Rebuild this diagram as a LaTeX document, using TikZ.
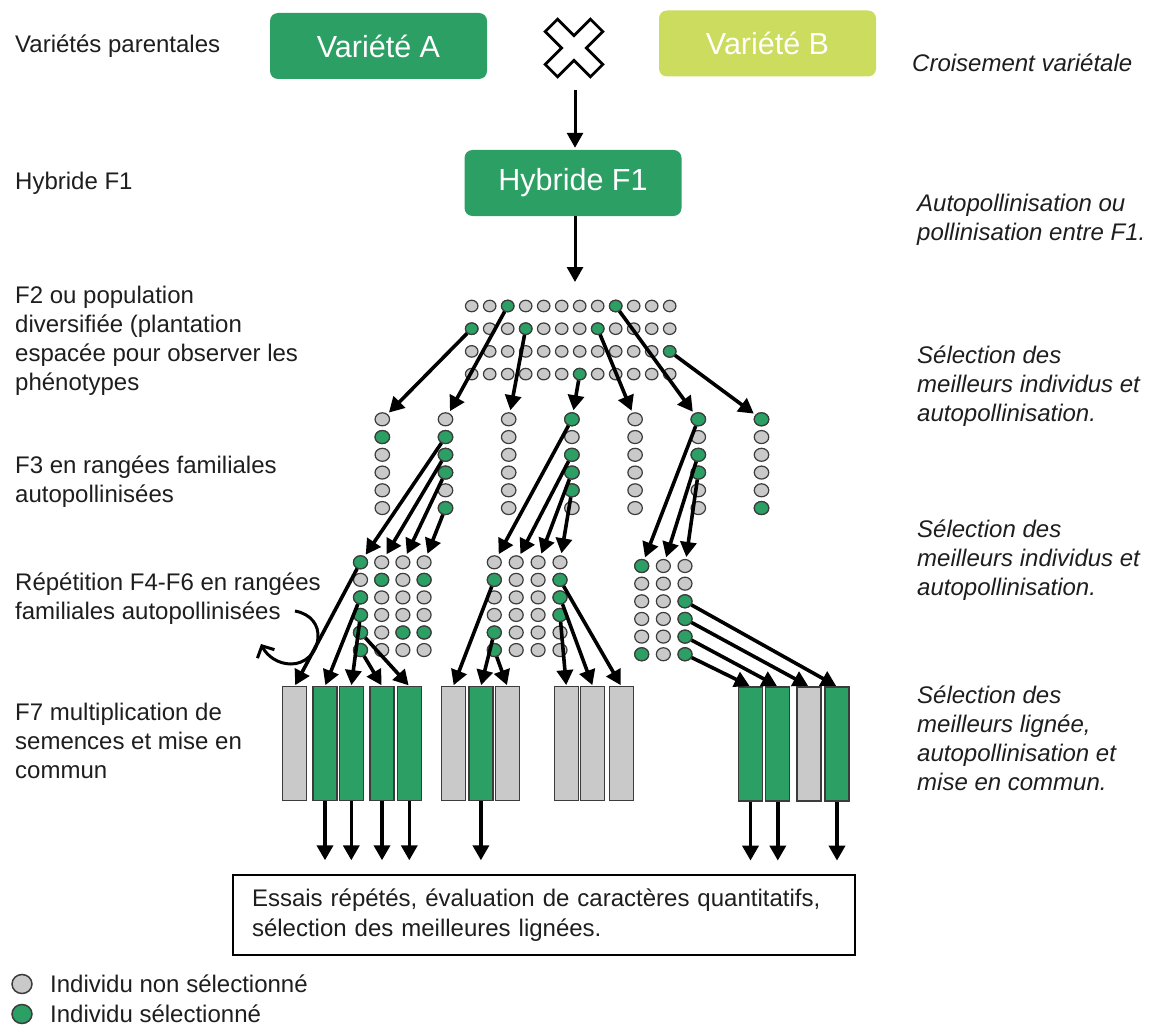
\documentclass[tikz,border=0pt]{standalone}
\usepackage{fontspec}
\setmainfont{Liberation Sans}
\usetikzlibrary{arrows.meta,shapes.geometric,calc}
\definecolor{vert}{RGB}{44,160,100}
\definecolor{vertclair}{RGB}{204,220,94}
\definecolor{gris}{RGB}{200,201,200}
\definecolor{bord}{RGB}{60,60,60}
\definecolor{texte}{RGB}{30,30,30}
\begin{document}
\begin{tikzpicture}[x=1pt,y=-1pt,
  lbl/.style={anchor=west, inner sep=0pt, align=left, text=texte, font=\fontsize{24}{29}\selectfont},
  rlbl/.style={anchor=west, inner sep=0pt, align=left, text=texte, font=\fontsize{24}{29}\selectfont\itshape},
  bigbox/.style={rounded corners=8pt, minimum width=217pt, minimum height=66pt, text=white, inner sep=0pt, font=\fontsize{30.5}{36}\selectfont},
  dotp/.style={ellipse, draw=bord, line width=1.2pt, fill=gris, inner sep=0pt, minimum width=12.5pt, minimum height=11.5pt},
  dott/.style={ellipse, draw=bord, line width=1.2pt, fill=gris, inner sep=0pt, minimum width=14.5pt, minimum height=13pt},
  dotq/.style={ellipse, draw=bord, line width=1.2pt, fill=gris, inner sep=0pt, minimum width=14pt, minimum height=13pt},
  sel/.style={fill=vert},
  lot/.style={rectangle, draw=bord, line width=1.2pt, minimum width=24pt, minimum height=114pt, inner sep=0pt},
  arr/.style={line width=3.6pt, -{Triangle[length=15pt,width=16pt]}, shorten >=2pt},
]
\useasboundingbox (0,0) rectangle (1153,1027);
\fill[white] (0,0) rectangle (1153,1027);

% ---- top ----
\node[bigbox, fill=vert] (varA) at (378.5,46) {Variété A};
\node[bigbox, fill=vertclair] (varB) at (767.5,43.5) {Variété B};
\node[bigbox, fill=vert] (hyb) at (573,183) {Hybride F1};
\draw[line width=2.8pt, fill=white, line join=miter, rotate around={45:(574,48)}]
  (574,48) ++(8.8,8.8) -- ++(23.2,0) -- ++(0,-17.6) -- ++(-23.2,0) -- ++(0,-23.2)
  -- ++(-17.6,0) -- ++(0,23.2) -- ++(-23.2,0) -- ++(0,17.6) -- ++(23.2,0)
  -- ++(0,23.2) -- ++(17.6,0) -- cycle;
\coordinate (xbas) at (575,90);
\coordinate (f2haut) at (575,282);
\draw[arr, line width=3pt] (xbas) -- (xbas |- hyb.north);
\draw[arr, line width=3pt, shorten >=0pt] (f2haut |- hyb.south) -- (f2haut);

% ---- left labels ----
\node[lbl] (l1) at (15,46) {Variétés parentales};
\node[lbl] (l2) at (15,183) {Hybride F1};
\node[lbl] (l3) at (15,341) {F2 ou population\\diversifiée (plantation\\espacée pour observer les\\phénotypes};
\node[lbl] (l4) at (15,481.5) {F3 en rangées familiales\\autopollinisées};
\node[lbl] (l5) at (15,598.5) {Répétition F4-F6 en rangées\\familiales autopollinisées};
\node[lbl] (l6) at (15,741) {F7 multiplication de\\semences et mise en\\commun};

% ---- right labels ----
\node[rlbl] (r1) at (912,63) {Croisement variétale};
\node[rlbl] (r2) at (917,219.5) {Autopollinisation ou\\pollinisation entre F1.};
\node[rlbl] (r3) at (917,386) {Sélection des\\meilleurs individus et\\autopollinisation.};
\node[rlbl] (r4) at (917,560) {Sélection des\\meilleurs individus et\\autopollinisation.};
\node[rlbl] (r5) at (917,738) {Sélection des\\meilleurs lignée,\\autopollinisation et\\mise en commun.};

% ---- F2 grid ----
\foreach \r in {1,...,4} \foreach \c in {1,...,12}
  \node[dotp] (p-\r-\c) at ({471.7+18*(\c-1)},{306+22.7*(\r-1)}) {};
\foreach \r/\c in {1/3,1/9,2/1,2/4,2/8,3/12,4/7}
  \node[dotp,sel] (p-\r-\c) at ({471.7+18*(\c-1)},{306+22.7*(\r-1)}) {};

% ---- F3 columns ----
\foreach \c in {1,...,7} \foreach \r in {1,...,6}
  \node[dott] (t-\c-\r) at ({382.3+63.2*(\c-1)},{419.3+17.75*(\r-1)}) {};
\foreach \c/\r in {1/2,2/2,2/3,2/4,2/6,4/1,4/3,4/4,4/5,6/1,6/3,6/4,7/1,7/6}
  \node[dott,sel] (t-\c-\r) at ({382.3+63.2*(\c-1)},{419.3+17.75*(\r-1)}) {};

% ---- F4-F6 blocks ----
\foreach \c in {1,...,4} \foreach \r in {1,...,6}
  \node[dotq] (a-\c-\r) at ({360.5+21.2*(\c-1)},{562.3+17.55*(\r-1)}) {};
\foreach \c/\r in {1/1,1/3,1/4,1/5,1/6,2/2,3/5,4/2,4/5}
  \node[dotq,sel] (a-\c-\r) at ({360.5+21.2*(\c-1)},{562.3+17.55*(\r-1)}) {};
\foreach \c in {1,...,4} \foreach \r in {1,...,6}
  \node[dotq] (b-\c-\r) at ({494.3+21.9*(\c-1)},{562.3+17.55*(\r-1)}) {};
\foreach \c/\r in {1/2,1/5,1/6,4/2,4/3,4/4}
  \node[dotq,sel] (b-\c-\r) at ({494.3+21.9*(\c-1)},{562.3+17.55*(\r-1)}) {};
\foreach \c in {1,...,3} \foreach \r in {1,...,6}
  \node[dotq] (d-\c-\r) at ({641.7+21.65*(\c-1)},{566+17.65*(\r-1)}) {};
\foreach \c/\r in {1/1,1/6,3/3,3/4,3/5,3/6}
  \node[dotq,sel] (d-\c-\r) at ({641.7+21.65*(\c-1)},{566+17.65*(\r-1)}) {};

% ---- F7 lots ----
\foreach \n/\x/\col in {1/294.7/gris,2/325/vert,3/351.3/vert,4/382/vert,5/409.3/vert}
  \node[lot, fill=\col] (g1-\n) at (\x,743.7) {};
\foreach \n/\x/\col in {1/453.3/gris,2/480.9/vert,3/507.3/gris}
  \node[lot, fill=\col] (g2-\n) at (\x,743.7) {};
\foreach \n/\x/\col in {1/566.3/gris,2/592.7/gris,3/621.3/gris}
  \node[lot, fill=\col] (g3-\n) at (\x,743.7) {};
\foreach \n/\x/\col in {1/750.5/vert,2/777.8/vert,3/809/gris,4/837/vert}
  \node[lot, fill=\col] (g4-\n) at (\x,744) {};

% ---- arrows F2 -> F3 ----
\draw[arr] (p-2-1) -- (t-1-1);
\draw[arr] (p-1-3) -- (t-2-1);
\draw[arr] (p-2-4) -- (t-3-1);
\draw[arr] (p-4-7) -- (t-4-1);
\draw[arr] (p-2-8) -- (t-5-1);
\draw[arr] (p-1-9) -- (t-6-1);
\draw[arr] (p-3-12) -- (t-7-1);

% ---- arrows F3 -> F4 ----
\draw[arr] (t-2-2) -- (a-1-1);
\draw[arr] (t-2-3) -- (a-2-1);
\draw[arr] (t-2-4) -- (a-3-1);
\draw[arr] (t-2-6) -- (a-4-1);
\draw[arr] (t-4-1) -- (b-1-1);
\draw[arr] (t-4-3) -- (b-2-1);
\draw[arr] (t-4-4) -- (b-3-1);
\draw[arr] (t-4-5) -- (b-4-1);
\draw[arr] (t-6-1) -- (d-1-1);
\draw[arr] (t-6-3) -- (d-2-1);
\draw[arr] (t-6-4) -- (d-3-1);

% ---- arrows F4 -> F7 ----
\draw[arr, shorten >=1pt] (a-1-1) -- (g1-1.north);
\draw[arr, shorten >=1pt] (a-1-3) -- (g1-2.north);
\draw[arr, shorten >=1pt] (a-1-4) -- (g1-3.north);
\draw[arr, shorten >=1pt] (a-1-6) -- (g1-4.north);
\draw[arr, shorten >=1pt] (a-1-5) -- (g1-5.north);
\draw[arr, shorten >=1pt] (b-1-2) -- (g2-1.north);
\draw[arr, shorten >=1pt] (b-1-5) -- (g2-2.north);
\draw[arr, shorten >=1pt] (b-1-6) -- (g2-3.north);
\draw[arr, shorten >=1pt] (b-4-4) -- (g3-1.north);
\draw[arr, shorten >=1pt] (b-4-3) -- (g3-2.north);
\draw[arr, shorten >=1pt] (b-4-2) -- (g3-3.north);
\draw[arr, shorten >=1pt] (d-3-6) -- (g4-1.north);
\draw[arr, shorten >=1pt] (d-3-5) -- (g4-2.north);
\draw[arr, shorten >=1pt] (d-3-4) -- (g4-3.north);
\draw[arr, shorten >=1pt] (d-3-3) -- (g4-4.north);

% ---- arrows F7 -> essais ----
\foreach \g/\n in {g1/2,g1/3,g1/4,g1/5,g2/2,g4/1,g4/2,g4/4} {
  \coordinate (e-\g-\n) at ($(\g-\n.south)+(0,59)$);
}
\foreach \g/\n in {g1/2,g1/3,g1/4,g1/5,g2/2,g4/1,g4/2,g4/4}
  \draw[arr, shorten >=0pt] (\g-\n) -- (e-\g-\n);

% ---- repetition arrow ----
\draw[line width=3pt, -{Straight Barb[length=9pt,width=19pt]}]
  (295,611) .. controls (311,614) and (319,625) .. (318,638)
  .. controls (317,653) and (305,664) .. (291,664)
  .. controls (278,664) and (267,656) .. (261,644);

% ---- essais box ----
\node[draw=black, line width=2pt, minimum width=622pt, minimum height=80pt,
      text width=584pt, inner xsep=19pt, align=left, text=texte,
      font=\fontsize{24}{30}\selectfont] (essais) at (544,915)
  {Essais répétés, évaluation de caractères quantitatifs,\\sélection des meilleures lignées.};

% ---- legend ----
\node[ellipse, draw=bord, line width=1.5pt, fill=gris, inner sep=0pt, minimum width=20pt, minimum height=19pt] (leg1) at (22,984) {};
\node[ellipse, draw=bord, line width=1.5pt, fill=vert, inner sep=0pt, minimum width=20pt, minimum height=19pt] (leg2) at (22,1014) {};
\node[lbl] (leg1t) at (50,984) {Individu non sélectionné};
\node[lbl] (leg2t) at (50,1014) {Individu sélectionné};
\end{tikzpicture}
\end{document}
